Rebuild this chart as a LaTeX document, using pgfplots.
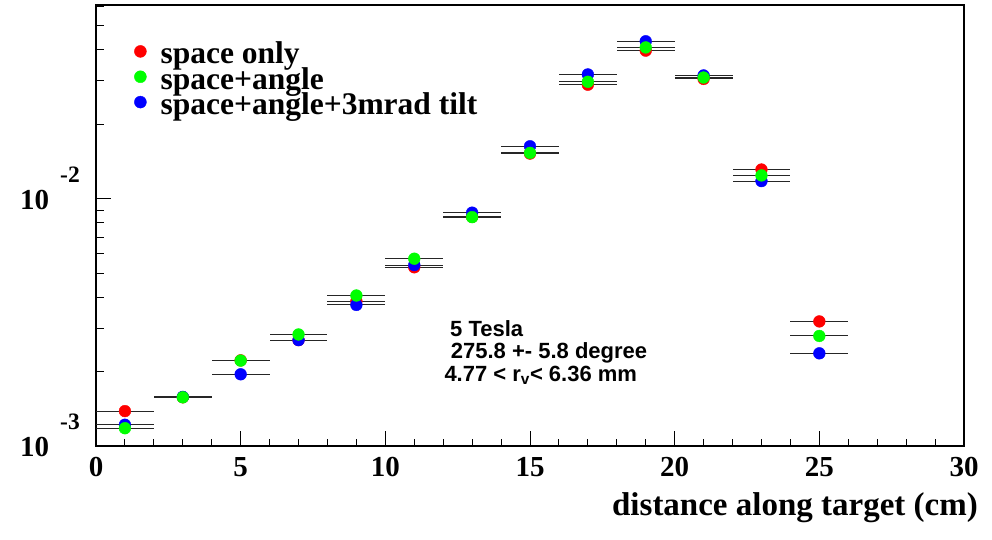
\documentclass[border=0pt]{standalone}
\usepackage{pgfplots}
\usepackage{pgfplotstable}
\pgfplotsset{compat=1.18}
\usepackage{fontspec}
\setmainfont{Liberation Serif}
\newfontfamily\arialfont{Liberation Sans}

\pgfplotstableread{
x red green blue
1 1.384e-3 1.180e-3 1.219e-3
3 1.574e-3 1.574e-3 1.580e-3
5 2.220e-3 2.215e-3 1.950e-3
7 2.680e-3 2.825e-3 2.680e-3
9 3.850e-3 4.060e-3 3.720e-3
11 5.280e-3 5.720e-3 5.390e-3
13 8.450e-3 8.420e-3 8.780e-3
15 1.522e-2 1.532e-2 1.629e-2
17 2.890e-2 2.970e-2 3.180e-2
19 3.970e-2 4.090e-2 4.330e-2
21 3.050e-2 3.090e-2 3.150e-2
23 1.312e-2 1.242e-2 1.178e-2
25 3.190e-3 2.786e-3 2.370e-3
}\datatable

\definecolor{pred}{RGB}{255,0,0}
\definecolor{pgreen}{RGB}{0,255,0}
\definecolor{pblue}{RGB}{0,0,255}

\newcommand{\tkfont}{\fontsize{29bp}{29bp}\selectfont\bfseries}
\newcommand{\supfont}{\fontsize{23.5bp}{23.5bp}\selectfont\bfseries}

\begin{document}
\begin{tikzpicture}
\useasboundingbox (0,0) rectangle (992bp,540bp);
\begin{axis}[
  at={(96bp,94bp)}, anchor=south west,
  scale only axis, width=868bp, height=441bp,
  ymode=log, xmin=0, xmax=30, ymin=1e-3, ymax=0.0607,
  axis line style={line width=1.8bp, black},
  xtick={0,5,...,30}, xticklabels={0,5,10,15,20,25,30},
  minor xtick={1,2,3,4,6,7,8,9,11,12,13,14,16,17,18,19,21,22,23,24,26,27,28,29},
  ytick={0.001,0.01},
  yticklabels={{10\hspace{11bp}\raisebox{27bp}{\supfont -3}},{10\hspace{11bp}\raisebox{27bp}{\supfont -2}}},
  minor ytick={0.002,0.003,0.004,0.005,0.006,0.007,0.008,0.009,0.02,0.03,0.04,0.05,0.06},
  tick align=inside, xtick pos=bottom, ytick pos=left,
  major tick length=15bp, minor tick length=7.5bp,
  every tick/.style={black, line width=1bp},
  xticklabel style={font=\tkfont, anchor=north, inner sep=0pt, yshift=-11bp},
  yticklabel style={font=\tkfont, anchor=base east, inner sep=0pt, xshift=-16bp, yshift=-10.5bp},
  xlabel={distance along target (cm)},
  xlabel style={font=\fontsize{33bp}{33bp}\selectfont\bfseries, at={(axis description cs:1,0)}, anchor=base east, inner sep=0pt, xshift=14bp, yshift=-69bp},
  legend style={draw=none, fill=none, at={(axis description cs:0,1)}, anchor=north west, xshift=38bp, yshift=-40bp,
    font=\fontsize{31.5bp}{31.5bp}\selectfont\bfseries, row sep=0pt, column sep=14bp, inner sep=0pt,
    nodes={inner sep=0pt, text height=15bp, text depth=6.7bp}},
  legend cell align=left,
  legend image code/.code={\fill (6bp,8.3bp) circle (6bp);},
  clip=false,
]
\addplot[forget plot, only marks, mark=*, mark size=5.9bp, color=pred, mark options={draw=none, fill=pred},
  error bars/.cd, x dir=both, x fixed=1, error mark=none, error bar style={black!85, line width=1bp}]
  table[x=x, y=red] {\datatable};
\addplot[forget plot, only marks, mark=*, mark size=5.9bp, color=pblue, mark options={draw=none, fill=pblue},
  error bars/.cd, x dir=both, x fixed=1, error mark=none, error bar style={black!85, line width=1bp}]
  table[x=x, y=blue] {\datatable};
\addplot[forget plot, only marks, mark=*, mark size=5.9bp, color=pgreen, mark options={draw=none, fill=pgreen},
  error bars/.cd, x dir=both, x fixed=1, error mark=none, error bar style={black!85, line width=1bp}]
  table[x=x, y=green] {\datatable};
\addlegendimage{only marks, color=pred, fill=pred}
\addlegendentry{space only}
\addlegendimage{only marks, color=pgreen, fill=pgreen}
\addlegendentry{space+angle}
\addlegendimage{only marks, color=pblue, fill=pblue}
\addlegendentry{space+angle+3mrad tilt}
\end{axis}
\begin{scope}[every node/.style={anchor=base west, inner sep=0pt, font=\arialfont\bfseries\fontsize{22bp}{22bp}\selectfont}]
\node at (450bp,203.3bp) {5 Tesla};
\node at (450.7bp,181.7bp) {275.8 +- 5.8 degree};
\node at (444.3bp,158.3bp) {4.77 < r\textsubscript{v}< 6.36 mm};
\end{scope}
\end{tikzpicture}
\end{document}
